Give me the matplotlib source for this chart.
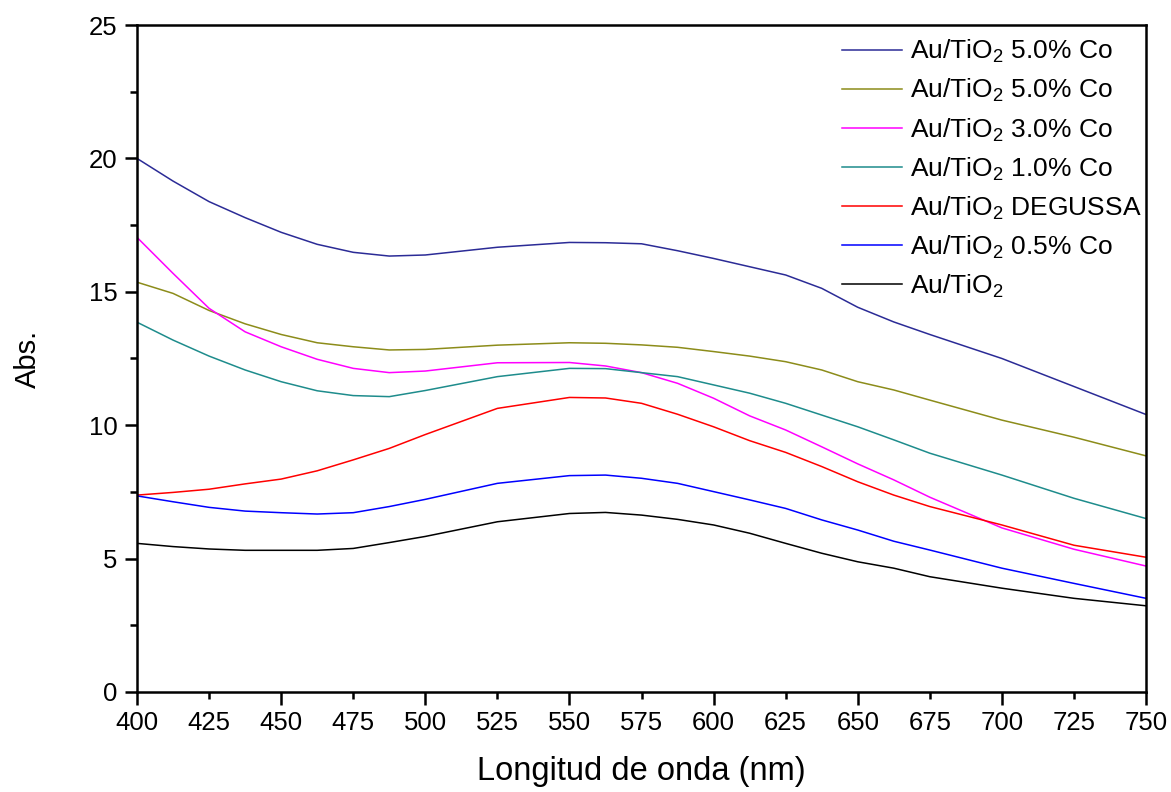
import matplotlib
matplotlib.use("Agg")
import matplotlib.pyplot as plt
from matplotlib.ticker import MultipleLocator, FormatStrFormatter

plt.rcParams['font.family'] = ['Liberation Sans', 'DejaVu Sans']
plt.rcParams['mathtext.default'] = 'regular'

wl = [400, 412.5, 425, 437.5, 450, 462.5, 475, 487.5, 500, 525, 550, 562.5,
      575, 587.5, 600, 612.5, 625, 637.5, 650, 662.5, 675, 700, 725, 750]

co50_a = [20.0, 19.15, 18.38, 17.78, 17.23, 16.78, 16.48, 16.34, 16.38, 16.67, 16.85, 16.84,
          16.8, 16.54, 16.25, 15.94, 15.63, 15.13, 14.42, 13.87, 13.4, 12.5, 11.45, 10.4]
co50_b = [15.36, 14.94, 14.3, 13.8, 13.4, 13.09, 12.94, 12.82, 12.84, 13.0, 13.09, 13.07,
          13.01, 12.92, 12.76, 12.59, 12.38, 12.07, 11.63, 11.32, 10.94, 10.19, 9.55, 8.85]
co30 = [17.04, 15.69, 14.38, 13.5, 12.94, 12.47, 12.13, 11.97, 12.03, 12.34, 12.35, 12.22,
        11.97, 11.57, 11.01, 10.35, 9.82, 9.19, 8.55, 7.95, 7.3, 6.15, 5.35, 4.72]
co10 = [13.86, 13.19, 12.59, 12.07, 11.63, 11.29, 11.11, 11.07, 11.3, 11.82, 12.13, 12.12,
        11.97, 11.82, 11.51, 11.2, 10.82, 10.38, 9.94, 9.45, 8.95, 8.13, 7.26, 6.5]
degussa = [7.38, 7.48, 7.6, 7.8, 7.98, 8.29, 8.7, 9.13, 9.65, 10.63, 11.04, 11.02,
           10.82, 10.41, 9.94, 9.42, 8.98, 8.45, 7.88, 7.38, 6.95, 6.26, 5.5, 5.05]
co05 = [7.35, 7.13, 6.92, 6.78, 6.72, 6.67, 6.72, 6.95, 7.22, 7.82, 8.11, 8.13,
        8.01, 7.82, 7.51, 7.2, 6.88, 6.45, 6.07, 5.65, 5.32, 4.64, 4.07, 3.51]
pure = [5.57, 5.45, 5.36, 5.31, 5.31, 5.31, 5.38, 5.6, 5.83, 6.38, 6.69, 6.73,
        6.63, 6.47, 6.26, 5.95, 5.57, 5.2, 4.88, 4.64, 4.32, 3.89, 3.51, 3.23]

labels = ['Au/TiO$_2$ 5.0% Co', 'Au/TiO$_2$ 5.0% Co', 'Au/TiO$_2$ 3.0% Co',
          'Au/TiO$_2$ 1.0% Co', 'Au/TiO$_2$ DEGUSSA', 'Au/TiO$_2$ 0.5% Co', 'Au/TiO$_2$']
colors = ['#2B2B96', '#8C8C1A', '#FF00FF', '#1E8C8C', '#FF0000', '#0000FF', '#000000']
data = [co50_a, co50_b, co30, co10, degussa, co05, pure]

fig = plt.figure(figsize=(11.71, 7.92), dpi=100)
ax = fig.add_axes([0.117, 0.1263, 0.8617, 0.8421])

for ys, lab, col in zip(data, labels, colors):
    ax.plot(wl, ys, color=col, lw=1.1, label=lab)

ax.set_xlim(400, 750)
ax.set_ylim(0, 25)
ax.xaxis.set_major_locator(MultipleLocator(50))
ax.xaxis.set_minor_locator(MultipleLocator(25))
ax.xaxis.set_major_formatter(FormatStrFormatter('%d'))
ax.xaxis.set_minor_formatter(FormatStrFormatter('%d'))
ax.yaxis.set_major_locator(MultipleLocator(5))
ax.yaxis.set_minor_locator(MultipleLocator(2.5))

for s in ax.spines.values():
    s.set_linewidth(1.8)
ax.tick_params(which='major', direction='out', length=9, width=1.8, labelsize=18.5, top=False, right=False)
ax.tick_params(which='minor', direction='out', length=5, width=1.8, labelsize=18.5, top=False, right=False)
ax.tick_params(axis='x', which='major', pad=5)
ax.tick_params(axis='x', which='minor', pad=9)
ax.tick_params(axis='y', which='major', pad=5)

ax.set_xlabel('Longitud de onda (nm)', fontsize=23.5, labelpad=15)
ax.set_ylabel('Abs.', fontsize=21, labelpad=34)

leg = ax.legend(loc='upper right', frameon=False, fontsize=19, handlelength=2.3,
                handletextpad=0.3, labelspacing=0.45, borderaxespad=0.1,
                bbox_to_anchor=(1.009, 1.0))

fig.savefig('out.png', dpi=100)
